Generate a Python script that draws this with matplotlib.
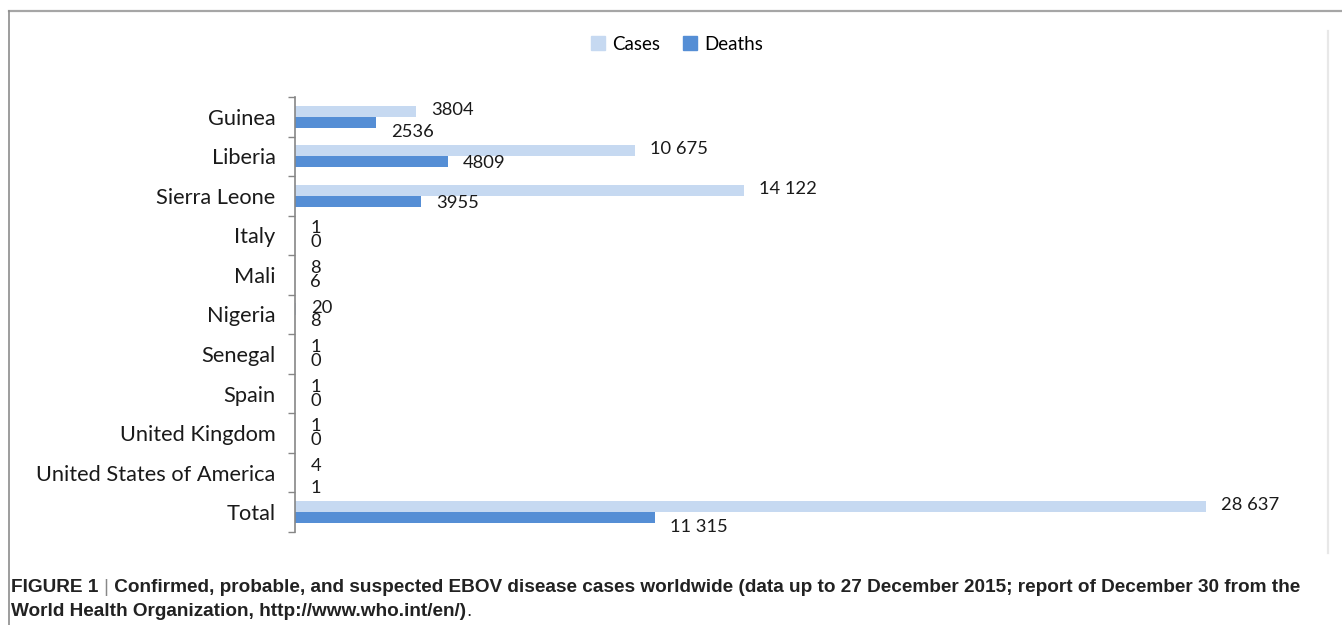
import matplotlib
matplotlib.use("Agg")
import matplotlib.pyplot as plt
from matplotlib.lines import Line2D
from matplotlib.patches import Patch
import numpy as np

countries = ["Guinea", "Liberia", "Sierra Leone", "Italy", "Mali", "Nigeria",
             "Senegal", "Spain", "United Kingdom", "United States of America", "Total"]
cases = [3804, 10675, 14122, 1, 8, 20, 1, 1, 1, 4, 28637]
deaths = [2536, 4809, 3955, 0, 6, 8, 0, 0, 0, 1, 11315]

# rows where the deaths label sits lower so it clears the cases label
pushed_down = ["Guinea", "United States of America", "Total"]

plt.rcParams["font.family"] = ["Lato", "DejaVu Sans"]

c_cases = "#c6d9f1"
c_deaths = "#558ed5"
txt = "#1a1a1a"

fig = plt.figure(figsize=(13.42, 6.25), dpi=100)
ax = fig.add_axes([295 / 1342, 1 - 532 / 625, 1033 / 1342, 435 / 625])

y = np.arange(len(countries))
h = 0.28
ax.barh(y - h / 2, cases, height=h, color=c_cases, label="Cases")
ax.barh(y + h / 2, deaths, height=h, color=c_deaths, label="Deaths")

def fmt(v):
    # thousands separated by a space only from five digits up
    return f"{v:,}".replace(",", " ") if v >= 10000 else str(v)

for i, name in enumerate(countries):
    ax.annotate(fmt(cases[i]), (cases[i], y[i] - h / 2), xytext=(11, 1),
                textcoords="offset points", ha="left", va="center",
                fontsize=13.2, color=txt)
    dy = -7 if name in pushed_down else -1
    ax.annotate(fmt(deaths[i]), (deaths[i], y[i] + h / 2), xytext=(11, dy),
                textcoords="offset points", ha="left", va="center",
                fontsize=13.2, color=txt)

ax.set_xlim(0, 32480)
ax.set_ylim(len(countries) - 0.5, -0.5)
ax.set_xticks([])

# category names on minor ticks, boundary ticks on major
ax.set_yticks(np.arange(len(countries) + 1) - 0.5)
ax.set_yticklabels([])
ax.set_yticks(y, minor=True)
ax.set_yticklabels(countries, minor=True, fontsize=15.7, color=txt)
ax.tick_params(axis="y", which="major", length=5, width=1, color="#868686", direction="out")
ax.tick_params(axis="y", which="minor", length=0, pad=14)

for s in ["top", "right", "bottom"]:
    ax.spines[s].set_visible(False)
ax.spines["left"].set_color("#868686")
ax.spines["left"].set_linewidth(1.2)

handles = [Patch(color=c_cases), Patch(color=c_deaths)]
fig.legend(handles, ["Cases", "Deaths"], loc="center",
           bbox_to_anchor=(677 / 1342, 1 - 44 / 625), ncol=2, frameon=False,
           fontsize=13.5, handlelength=0.75, handleheight=0.75,
           handletextpad=0.4, columnspacing=1.2)

# frame around the chart
fig.add_artist(Line2D([9 / 1342, 1], [1 - 10.5 / 625] * 2, color="#a6a6a6", lw=1.6))
fig.add_artist(Line2D([9 / 1342] * 2, [0, 1 - 10.5 / 625], color="#8c8c8c", lw=1.2))
fig.add_artist(Line2D([1328 / 1342] * 2, [1 - 553 / 625, 1 - 31 / 625], color="#e8e8e8", lw=1.6))

# caption
cap_font = ["Liberation Sans", "DejaVu Sans"]
cap_size = 13.65
t1 = fig.text(11 / 1342, 1 - 587 / 625, "FIGURE 1 ", fontsize=cap_size, fontweight="bold",
              family=cap_font, color="#222222", va="center")
bar = ax.annotate("|", xy=(1, 0), xycoords=t1, va="bottom", ha="left",
                  fontsize=cap_size, family=cap_font, color="#888888", annotation_clip=False)
ax.annotate(" Confirmed, probable, and suspected EBOV disease cases worldwide "
            "(data up to 27 December 2015; report of December 30 from the",
            xy=(1, 0), xycoords=bar, va="bottom", ha="left", fontsize=cap_size,
            fontweight="bold", family=cap_font, color="#222222", annotation_clip=False)
line2 = fig.text(11 / 1342, 1 - 611 / 625, "World Health Organization, http://www.who.int/en/)",
                 fontsize=cap_size, fontweight="bold", family=cap_font, color="#222222", va="center")
ax.annotate(".", xy=(1, 0), xycoords=line2, va="bottom", ha="left", fontsize=cap_size,
            family=cap_font, color="#222222", annotation_clip=False)

fig.savefig("out.png", dpi=100)
